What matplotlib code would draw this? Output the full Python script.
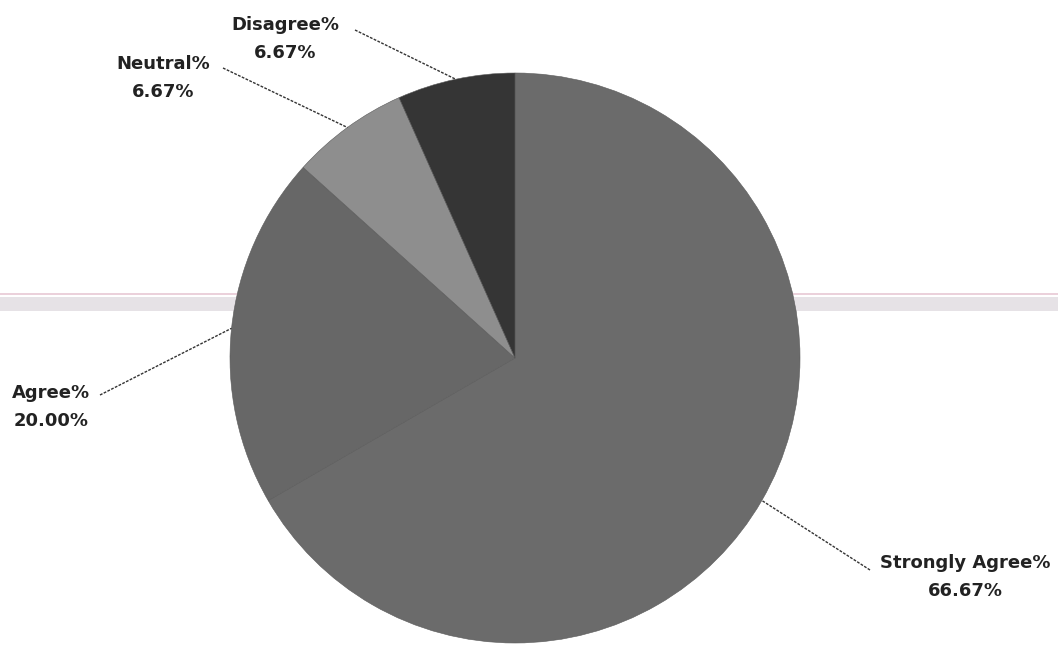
import numpy as np
import matplotlib
matplotlib.use("Agg")
import matplotlib.pyplot as plt

categories = ["Strongly Agree%", "Agree%", "Neutral%", "Disagree%"]
values = [66.67, 20.00, 6.67, 6.67]
value_labels = ["66.67%", "20.00%", "6.67%", "6.67%"]
colors = ["#6b6b6b", "#676767", "#8e8e8e", "#353535"]

W, H = 1058, 647
fig = plt.figure(figsize=(W / 100, H / 100), dpi=100)
ax = fig.add_axes([0, 0, 1, 1])

# background scan band
ax.axhspan(H - 311, H - 297, color="#e6e2e6", zorder=0, lw=0)
ax.axhline(H - 294, color="#e8c8d4", lw=1.2, zorder=0)

cx, cy, r = 515, H - 358, 285
wedges, _ = ax.pie(values, colors=colors, startangle=90, counterclock=False,
                   center=(cx, cy), radius=r, frame=True,
                   wedgeprops=dict(linewidth=0.4, edgecolor="#5a5a5a", zorder=2))
ax.set_xlim(0, W)
ax.set_ylim(0, H)
ax.set_aspect("equal")
ax.axis("off")

label_pos = {
    "Strongly Agree%": (965, H - 577),
    "Agree%": (51, H - 407),
    "Neutral%": (163, H - 78),
    "Disagree%": (285, H - 39),
}
line_start = {
    "Strongly Agree%": (870, H - 570),
    "Agree%": (100, H - 395),
    "Neutral%": (223, H - 68),
    "Disagree%": (355, H - 30),
}

for w, cat, vl in zip(wedges, categories, value_labels):
    mid = np.deg2rad((w.theta1 + w.theta2) / 2)
    ex, ey = cx + r * np.cos(mid), cy + r * np.sin(mid)
    sx, sy = line_start[cat]
    ax.plot([sx, ex], [sy, ey], color="#333333", lw=1.0, ls=(0, (2, 1)), zorder=3)
    lx, ly = label_pos[cat]
    ax.text(lx, ly, cat + "\n" + vl, ha="center", va="center", fontsize=13,
            fontweight="bold", family="DejaVu Sans", color="#222222",
            linespacing=1.7, zorder=4)

fig.savefig("out.png", dpi=100)
